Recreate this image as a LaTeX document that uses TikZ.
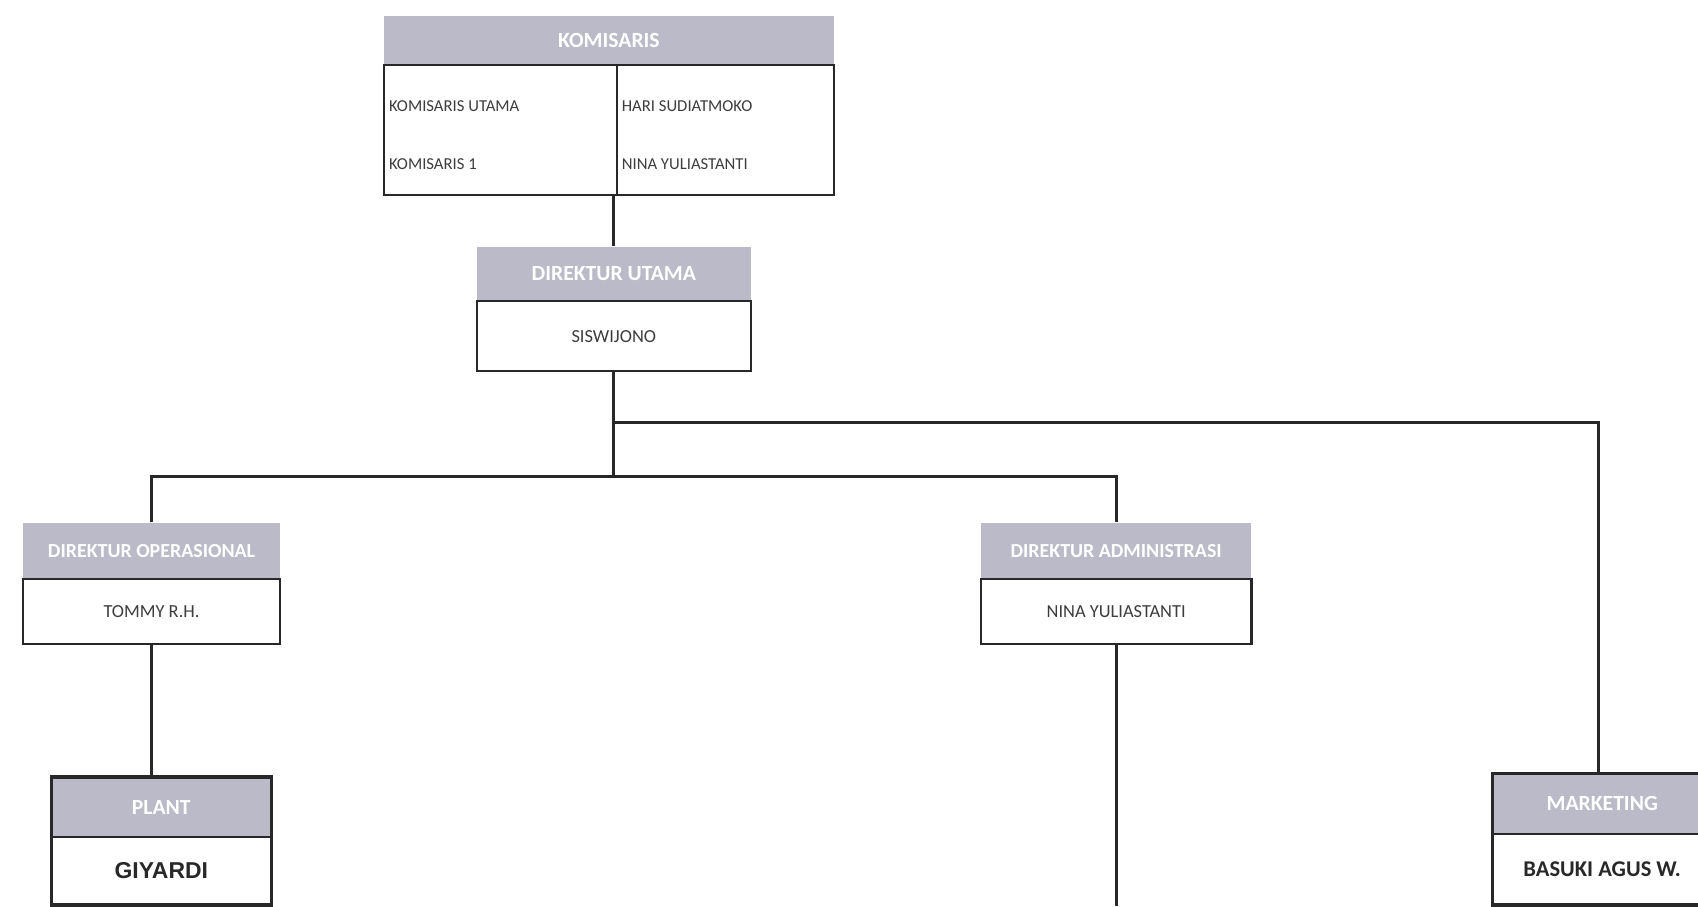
\documentclass[tikz,border=0pt]{standalone}
\usepackage{fontspec}
\setmainfont{Carlito}
\newfontfamily\arialfont{Liberation Sans}
\usetikzlibrary{calc}
\definecolor{hdr}{RGB}{186,186,200}
\definecolor{ln}{RGB}{40,40,40}
\begin{document}
\begin{tikzpicture}[x=0.5pt,y=-0.5pt,
  hdrbox/.style={fill=hdr,text=white,font=\bfseries\fontsize{10}{12}\selectfont,inner sep=0pt},
  smallhdr/.style={hdrbox,font=\bfseries\fontsize{9.2}{11}\selectfont},
  namebox/.style={draw=ln,line width=1pt,fill=white,text=ln!90,font=\fontsize{8.5}{10}\selectfont,inner sep=0pt},
  celltext/.style={anchor=west,inner sep=0pt,text=ln!90,font=\fontsize{7.7}{9.2}\selectfont},
  bigname/.style={draw=ln,line width=1pt,fill=white,text=ln,font=\bfseries\fontsize{10.4}{12}\selectfont,inner sep=0pt},
  conn/.style={draw=ln,line width=1.4pt},
  outline/.style={draw=ln,line width=1.6pt}]
\useasboundingbox[fill=white] (0,0) rectangle (1568.5,837);

% KOMISARIS
\node[hdrbox,minimum width=207.5pt,minimum height=22.5pt] (kh) at (562.5,37.5) {KOMISARIS};
\node[namebox,minimum width=107.5pt,minimum height=60pt] (kl) at (462.5,120) {};
\node[namebox,minimum width=100pt,minimum height=60pt] (kr) at (670,120) {};
\node[celltext] (ku) at (359,98) {KOMISARIS UTAMA};
\node[celltext] (k1) at (359,152) {KOMISARIS 1};
\node[celltext] (hs) at (574,98) {HARI SUDIATMOKO};
\node[celltext] (ny) at (574,152) {NINA YULIASTANTI};

% DIREKTUR UTAMA
\node[hdrbox,minimum width=126.5pt,minimum height=25pt] (duh) at (567,253) {DIREKTUR UTAMA};
\node[namebox,minimum width=126.5pt,minimum height=32.5pt] (dub) at (567,310.5) {SISWIJONO};

% DIREKTUR OPERASIONAL
\node[smallhdr,minimum width=119pt,minimum height=26pt] (doh) at (140,509) {DIREKTUR OPERASIONAL};
\node[namebox,minimum width=119pt,minimum height=30pt] (dob) at (140,565) {TOMMY R.H.};

% DIREKTUR ADMINISTRASI
\node[smallhdr,minimum width=125pt,minimum height=26pt] (dah) at (1031,509) {DIREKTUR ADMINISTRASI};
\node[namebox,minimum width=125pt,minimum height=30pt] (dab) at (1031,565) {NINA YULIASTANTI};

% PLANT
\node[hdrbox,minimum width=101pt,minimum height=27.5pt] (plh) at (149,745.5) {PLANT};
\node[bigname,minimum width=101pt,minimum height=31pt,font=\arialfont\bfseries\fontsize{10.6}{12}\selectfont] (plb) at (149,804) {GIYARDI};
\draw[outline] (plh.north west) rectangle (plb.south east);

% MARKETING
\node[hdrbox,minimum width=101pt,minimum height=27.5pt] (mkh) at (1480,742.5) {MARKETING};
\node[bigname,minimum width=101pt,minimum height=32.5pt] (mkb) at (1480,802.5) {BASUKI AGUS W.};
\draw[outline] (mkh.north west) rectangle (mkb.south east);

% connectors
\coordinate (j1) at (567,390);
\coordinate (j2) at (567,440);
\coordinate (e1) at (140,837);
\coordinate (e2) at (1031,837);
\coordinate (e3) at (1477,837);
\draw[conn] (kl.south -| duh.north) -- (duh.north);
\draw[conn] (dub.south) -- (j2);
\draw[conn] (j1) -| (mkh.north -| e3);
\draw[conn] (doh.north) |- (j2) -| (dah.north);
\draw[conn] (dob.south) -- (plh.north -| dob.south);
\draw[conn] (dab.south) -- (e2);
\draw[conn] (plb.south -| e1) -- (e1);
\draw[conn] (mkb.south -| e3) -- (e3);
\end{tikzpicture}
\end{document}
